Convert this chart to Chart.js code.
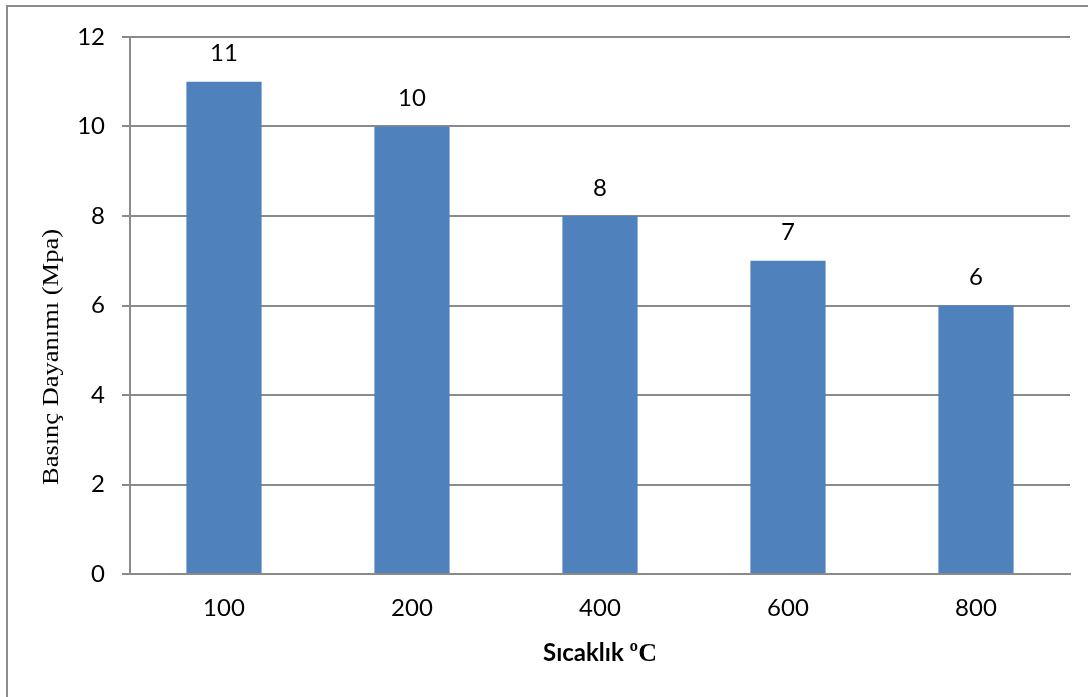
<!DOCTYPE html>
<html>
<head>
<meta charset="utf-8">
<script src="https://cdn.jsdelivr.net/npm/chart.js@4/dist/chart.umd.min.js"></script>
<style>
  html, body { margin: 0; padding: 0; background: #ffffff; }
  #wrap { width: 1088px; height: 697px; position: relative; }
</style>
</head>
<body>
<div id="wrap"><canvas id="c" width="1088" height="697"></canvas></div>
<script>
// Compressive strength by temperature
const categories = ['100', '200', '400', '600', '800'];
const strength = [11, 10, 8, 7, 6];
const yTicks = [0, 2, 4, 6, 8, 10, 12];
const yTitle = 'Basınç Dayanımı (Mpa)';
const xTitleMain = 'Sıcaklık ';
const xTitleUnit = 'ºC';

const GRID = '#8a8a8a';
const BAR = '#4f81bd';
const TICK_FONT = { family: 'Lato', size: 24 };

// Frame, axis titles and value labels
const decorations = {
  id: 'decorations',
  beforeDraw(chart) {
    const ctx = chart.ctx;
    ctx.save();
    ctx.fillStyle = '#ffffff';
    ctx.fillRect(0, 0, chart.width, chart.height);
    ctx.strokeStyle = '#8c8c8c';
    ctx.lineWidth = 2;
    ctx.beginPath();
    ctx.moveTo(7, chart.height);
    ctx.lineTo(7, 6);
    ctx.lineTo(chart.width, 6);
    ctx.stroke();
    ctx.restore();
  },
  afterDraw(chart) {
    const ctx = chart.ctx;
    const area = chart.chartArea;
    ctx.save();
    ctx.fillStyle = '#000000';

    // value labels above bars
    const meta = chart.getDatasetMeta(0);
    ctx.font = '24px Lato';
    ctx.textAlign = 'center';
    ctx.textBaseline = 'middle';
    meta.data.forEach((bar, i) => {
      ctx.fillText(String(strength[i]), bar.x, bar.y - 28);
    });

    // y axis title (rotated)
    ctx.save();
    ctx.translate(58, 357);
    ctx.rotate(-Math.PI / 2);
    ctx.font = '23px "Liberation Serif"';
    const w = ctx.measureText(yTitle).width;
    ctx.scale(256 / w, 1);
    ctx.textAlign = 'center';
    ctx.textBaseline = 'alphabetic';
    ctx.fillText(yTitle, 0, 0);
    ctx.restore();

    // x axis title: bold sans name + serif unit
    const cx = (area.left + area.right) / 2;
    const base = 661;
    ctx.textAlign = 'left';
    ctx.textBaseline = 'alphabetic';
    ctx.font = 'bold 24px Lato';
    const w1 = ctx.measureText(xTitleMain).width;
    ctx.font = 'bold 26px "Liberation Serif"';
    const w2 = ctx.measureText(xTitleUnit).width;
    let x0 = cx - (w1 + w2) / 2;
    ctx.font = 'bold 24px Lato';
    ctx.fillText(xTitleMain, x0, base);
    ctx.font = 'bold 26px "Liberation Serif"';
    ctx.fillText(xTitleUnit, x0 + w1, base);
    ctx.restore();
  }
};

new Chart(document.getElementById('c'), {
  type: 'bar',
  data: {
    labels: categories,
    datasets: [{
      data: strength,
      backgroundColor: BAR,
      borderWidth: 0,
      categoryPercentage: 1.0,
      barPercentage: 0.4
    }]
  },
  options: {
    responsive: false,
    animation: false,
    events: [],
    layout: { padding: { top: 37, right: 18, left: 0, bottom: 0 } },
    plugins: {
      legend: { display: false },
      tooltip: { enabled: false },
      title: { display: false }
    },
    scales: {
      x: {
        grid: { display: false, drawTicks: false },
        border: { display: true, color: GRID, width: 2 },
        ticks: { color: '#000000', font: TICK_FONT, padding: 20 },
        afterFit(scale) { scale.height = 123; }
      },
      y: {
        min: 0,
        max: 12,
        afterBuildTicks(scale) { scale.ticks = yTicks.map(v => ({ value: v })); },
        grid: { color: GRID, lineWidth: 2, drawTicks: true, tickLength: 8, tickColor: GRID },
        border: { display: true, color: GRID, width: 2 },
        ticks: { color: '#000000', font: TICK_FONT, padding: 17 },
        afterFit(scale) { scale.width = 130; }
      }
    }
  },
  plugins: [decorations]
});
</script>
</body>
</html>
